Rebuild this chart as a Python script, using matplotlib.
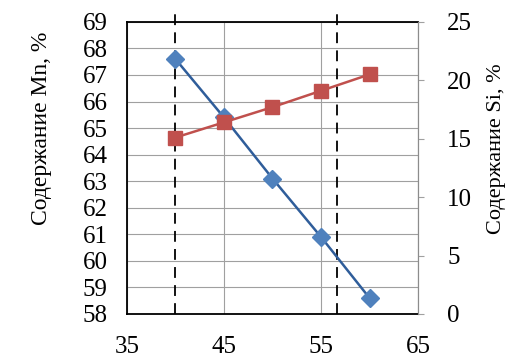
import matplotlib.pyplot as plt

plt.rcParams['font.family'] = 'serif'
plt.rcParams['font.serif'] = ['Liberation Serif', 'Times New Roman', 'DejaVu Serif']

x = [40, 45, 50, 55, 60]
mn = [67.6, 65.4, 63.1, 60.9, 58.6]
si = [15.1, 16.4, 17.7, 19.1, 20.5]
dash_x = [40, 56.6]

fig = plt.figure(figsize=(5.2, 3.58), dpi=100)
ax = fig.add_axes([0.244, 0.123, 0.56, 0.816])

ax.set_xlim(35, 65)
ax.set_ylim(58, 69)
ax.set_xticks([35, 45, 55, 65])
ax.set_yticks(range(58, 70))
ax.grid(True, color='#a0a0a0', lw=0.8)
ax.set_axisbelow(True)
ax.tick_params(axis='both', length=0, labelsize=18)
ax.tick_params(axis='y', pad=14)
ax.tick_params(axis='x', pad=16)
for s in ['top', 'bottom', 'left']:
    ax.spines[s].set_linewidth(1.3)
    ax.spines[s].set_color('black')
ax.spines['right'].set_color('#8c8c8c')

for dx in dash_x:
    ax.axvline(dx, color='black', lw=1.3, ls=(0, (6, 4)), ymax=1.031, clip_on=False)

ax.plot(x, mn, '-D', color='#2f5d9a', mfc='#4f81bd', mec='#4f81bd', ms=9, lw=1.8, zorder=3)
ax.set_ylabel('Содержание Mn, %', fontsize=17)
ax.yaxis.set_label_coords(-0.258, 0.637)

ax2 = ax.twinx()
ax2.set_ylim(0, 25)
ax2.set_yticks([0, 5, 10, 15, 20, 25])
ax2.tick_params(axis='y', length=4, color='#a0a0a0', labelsize=18, pad=17)
for s in ['top', 'bottom', 'left']:
    ax2.spines[s].set_visible(False)
ax2.spines['right'].set_color('#8c8c8c')
ax2.plot(x, si, '-s', color='#c0504d', ms=10, lw=1.8, zorder=3)
ax2.set_ylabel('Содержание Si, %', fontsize=16)
ax2.yaxis.set_label_coords(1.235, 0.565)

fig.savefig('out.png', dpi=100)
